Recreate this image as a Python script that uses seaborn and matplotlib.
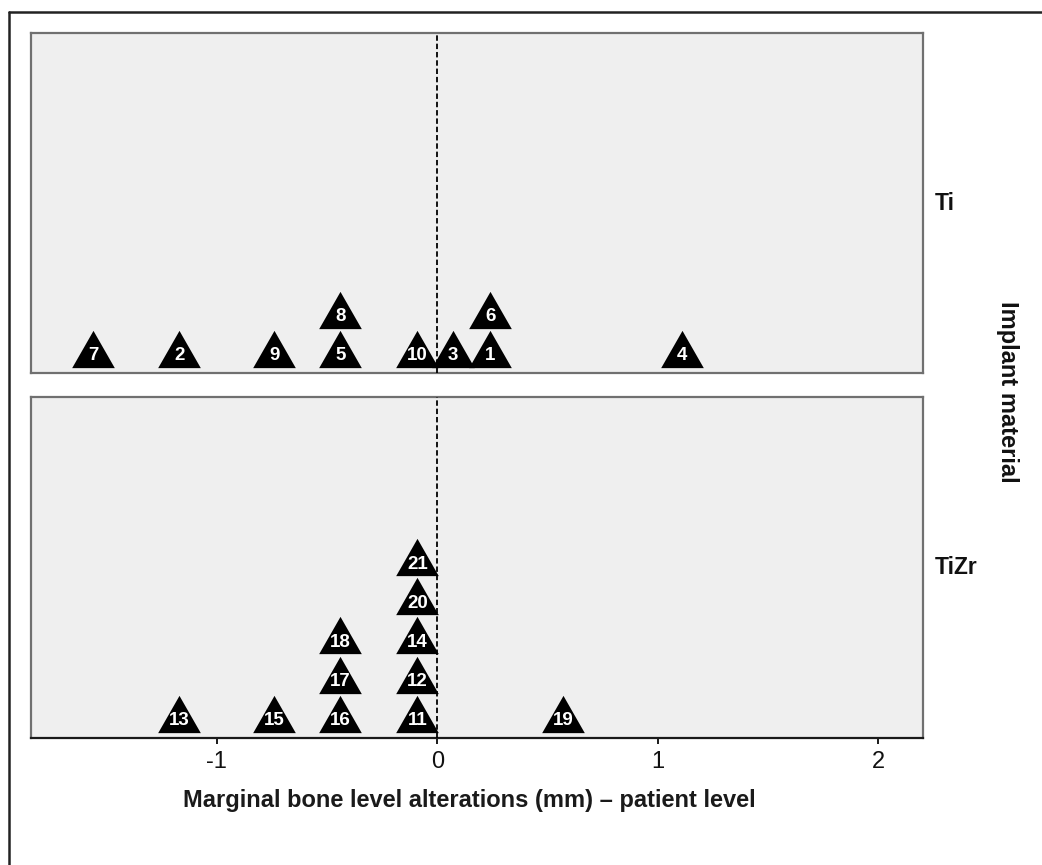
"""Dot plot of marginal bone level alterations per patient, by implant material."""

import matplotlib
matplotlib.use('Agg')
import matplotlib.pyplot as plt
from matplotlib.lines import Line2D
import seaborn as sns
import pandas as pd

sns.set_style('white')
plt.rcParams['font.family'] = ['Liberation Sans', 'DejaVu Sans']

# Patient-level data
materials = ['Ti', 'TiZr']
ti_ids = [1, 2, 3, 4, 5, 6, 7, 8, 9, 10]
ti_mbl = [0.24, -1.17, 0.07, 1.11, -0.44, 0.24, -1.56, -0.44, -0.74, -0.09]
tizr_ids = [11, 12, 13, 14, 15, 16, 17, 18, 19, 20, 21]
tizr_mbl = [-0.09, -0.09, -1.17, -0.09, -0.74, -0.44, -0.44, -0.44, 0.57, -0.09, -0.09]
x_ticks = [-1, 0, 1, 2]
x_label = 'Marginal bone level alterations (mm) \u2013 patient level'
facet_title = 'Implant material'

df = pd.concat([
    pd.DataFrame({'material': 'Ti', 'id': ti_ids, 'mbl': ti_mbl}),
    pd.DataFrame({'material': 'TiZr', 'id': tizr_ids, 'mbl': tizr_mbl}),
], ignore_index=True)
df = df.sort_values(['material', 'id'])
# stack identical values on top of each other (dot plot)
df['level'] = df.groupby(['material', 'mbl']).cumcount()

W, H = 1042, 865
fig = plt.figure(figsize=(W / 100, H / 100), dpi=100)
fig.patch.set_facecolor('white')

# outer frame (top and left edges visible)
fig.add_artist(Line2D([9 / W, 9 / W], [0, 1 - 12 / H], color='#222222', lw=1.8))
fig.add_artist(Line2D([9 / W, 1], [1 - 12 / H, 1 - 12 / H], color='#222222', lw=1.8))

left, right = 31 / W, 923 / W
boxes = {'Ti': (33, 373), 'TiZr': (397, 738)}
tri = [(0, 0.874), (-1, -0.874), (1, -0.874)]
panel_gray = '#efefef'

for mat in materials:
    top, bot = boxes[mat]
    ax = fig.add_axes([left, 1 - bot / H, right - left, (bot - top) / H])
    ax.set_facecolor(panel_gray)
    sub = df[df['material'] == mat]
    ax.axvline(0, color='black', ls=(0, (3, 1.6)), lw=1.3, zorder=3)
    sns.scatterplot(data=sub, x='mbl', y='level', marker=tri, s=943,
                    color='black', linewidth=0, ax=ax, zorder=2, legend=False)
    for _, r in sub.iterrows():
        ax.text(r['mbl'], r['level'] - 0.18, str(r['id']), color='white',
                fontsize=13.5, fontweight='bold', ha='center', va='center', zorder=4)
    ax.set_xlim(-1.842, 2.202)
    ax.set_ylim(-0.623, 8.095)
    ax.set_yticks([])
    ax.set_xlabel('')
    ax.set_ylabel('')
    for s in ax.spines.values():
        s.set_color('#707070')
        s.set_linewidth(1.6)
    ax.text(935 / W, 1 - ((top + bot) / 2) / H, mat, transform=fig.transFigure,
            fontsize=16.5, fontweight='bold', ha='left', va='center', color='#111111')
    if mat == 'TiZr':
        ax.spines['bottom'].set_color('#1a1a1a')
        ax.set_xticks(x_ticks)
        ax.set_xticklabels([str(t) for t in x_ticks])
        ax.tick_params(axis='x', bottom=True, direction='out', length=4.5,
                       width=1.4, color='#1a1a1a', labelsize=17, pad=5,
                       labelcolor='#111111')
    else:
        ax.set_xticks([])

fig.text(1008 / W, 1 - 392 / H, facet_title, rotation=270, fontsize=17,
         fontweight='bold', ha='center', va='center', color='#111111')
fig.text(469 / W, 1 - 800 / H, x_label, fontsize=17, fontweight='bold',
         ha='center', va='center', color='#1a1a1a')

fig.savefig('out.png', dpi=100, facecolor='white')
